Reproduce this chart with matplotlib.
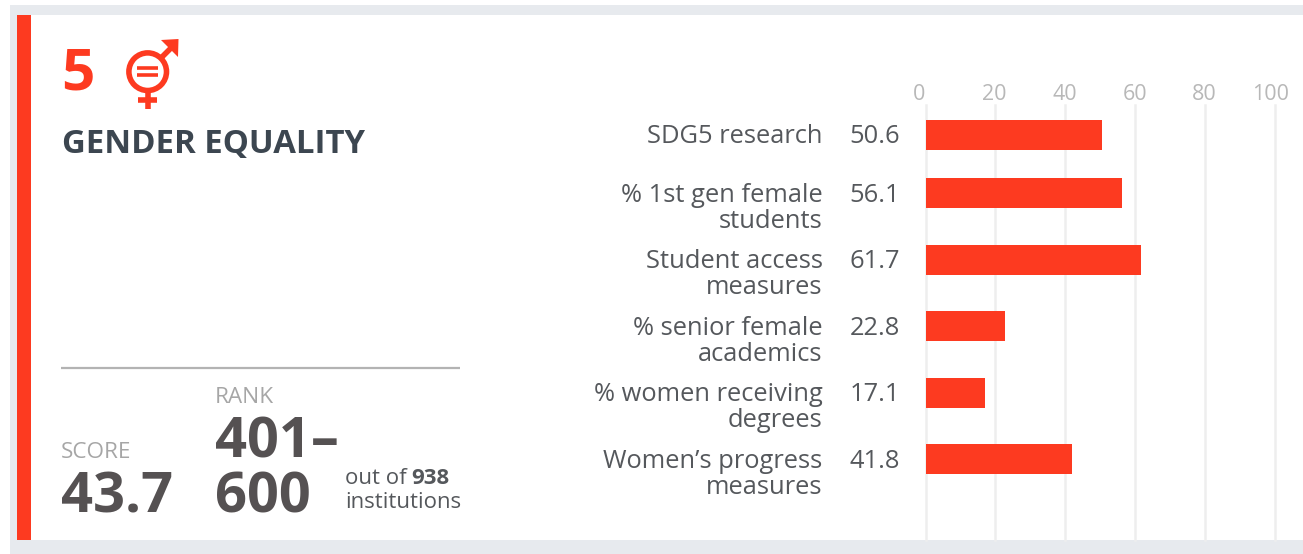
import matplotlib
matplotlib.use("Agg")
import matplotlib.pyplot as plt
from matplotlib.patches import Rectangle, Circle, Polygon
from matplotlib.transforms import ScaledTranslation

plt.rcParams['font.family'] = ['Open Sans', 'DejaVu Sans']

labels = ["SDG5 research", "% 1st gen female\nstudents", "Student access\nmeasures",
          "% senior female\nacademics", "% women receiving\ndegrees", "Women\u2019s progress\nmeasures"]
values = [50.6, 56.1, 61.7, 22.8, 17.1, 41.8]
value_text = ["50.6", "56.1", "61.7", "22.8", "17.1", "41.8"]
row_pos = [0.0, 0.887, 1.887, 2.887, 3.887, 4.887]
ticks = [0, 20, 40, 60, 80, 100]
tick_shift_px = [-6.5, -1.5, 0, 0, -1, -4]

RED = '#fd3a20'
GREY_BG = '#e7eaee'
W, H = 1303, 554
fig = plt.figure(figsize=(W / 100, H / 100), dpi=100, facecolor='white')

bg = fig.add_axes([0, 0, 1, 1], zorder=0)
bg.set_xlim(0, W); bg.set_ylim(H, 0); bg.axis('off')
bg.add_patch(Rectangle((10, 5), W - 10, H - 5, fc=GREY_BG, ec='none'))
bg.add_patch(Rectangle((17, 15), W - 17, 525, fc='white', ec='none'))
bg.add_patch(Rectangle((17, 15), 14, 525, fc=RED, ec='none'))

# chart axes: x 0 -> 925.5 px, 100 -> 1275 px; y spans 105..540 px
x0, x100 = 925.5, 1275.0
top, bot = 105.0, 540.0
ax = fig.add_axes([x0 / W, 1 - bot / H, (x100 - x0) / W, (bot - top) / H], zorder=2)
ax.patch.set_alpha(0)
ax.set_xlim(0, 100)
px_per_row = 66.5
ax.set_ylim((bot - 134.5) / px_per_row, (top - 134.5) / px_per_row)
ax.barh(row_pos, values, height=30 / px_per_row, color=RED, zorder=3)
ax.set_xticks(ticks)
ax.xaxis.tick_top()
ax.tick_params(axis='x', length=0, pad=0, labelsize=15.5, labelcolor='#b8b8b8')
ax.set_yticks([])
ax.grid(axis='x', color='#eeeeee', lw=1.8, zorder=0)
ax.set_axisbelow(True)
for s in ax.spines.values():
    s.set_visible(False)
for lab, dx in zip(ax.get_xticklabels(), tick_shift_px):
    lab.set_clip_on(False)
    lab.set_transform(lab.get_transform() + ScaledTranslation(dx / 100, 0, fig.dpi_scale_trans))
for gl in ax.get_xgridlines():
    gl.set_clip_on(False)

ov = fig.add_axes([0, 0, 1, 1], zorder=3)
ov.set_xlim(0, W); ov.set_ylim(H, 0); ov.axis('off')

TXT = '#55585c'
for lab, vt, r in zip(labels, value_text, row_pos):
    yc = 136.5 + r * px_per_row
    for i, p in enumerate(lab.split('\n')):
        ov.text(822.5, yc + i * 26, p, ha='right', va='center', fontsize=18.4, color=TXT)
    ov.text(849.5, yc, vt, ha='left', va='center', fontsize=18.4, color=TXT)

ov.text(61, 75, "5", ha='left', va='center', fontsize=42, fontweight='bold', color=RED)
ov.text(62, 144.5, "GENDER EQUALITY", ha='left', va='center', fontsize=23.7, fontweight='bold', color='#3c4650')

# gender-equality icon
ov.add_patch(Circle((147.7, 71.7), 18.8, fc='none', ec=RED, lw=4))
ov.plot([137, 158], [68, 68], color=RED, lw=2.6, solid_capstyle='butt')
ov.plot([137, 158], [75, 75], color=RED, lw=2.6, solid_capstyle='butt')
ov.plot([147.7, 147.7], [92, 109], color=RED, lw=4, solid_capstyle='butt')
ov.plot([138, 157], [100, 100], color=RED, lw=4, solid_capstyle='butt')
ov.plot([161, 174], [58, 45], color=RED, lw=4, solid_capstyle='butt')
ov.add_patch(Polygon([[161, 40], [178.5, 39], [178, 57]], closed=True, fc=RED, ec='none'))

ov.plot([61, 460], [368, 368], color='#b3b3b3', lw=1.6, solid_capstyle='butt')

ov.text(61, 452.5, "SCORE", ha='left', va='center', fontsize=16.2, color='#a6a6a6')
ov.text(61, 498, "43.7", ha='left', va='center', fontsize=40.3, fontweight='bold', color='#555152')
ov.text(215, 397.5, "RANK", ha='left', va='center', fontsize=16.2, color='#a6a6a6')
ov.text(215, 443, "401\u2013", ha='left', va='center', fontsize=40.3, fontweight='bold', color='#555152')
ov.text(215, 498, "600", ha='left', va='center', fontsize=40.3, fontweight='bold', color='#555152')
t = ov.text(345, 478, "out of", ha='left', va='center', fontsize=16, color=TXT)
fig.canvas.draw()
bb = t.get_window_extent()
ov.text(bb.x1 + 5, 478, "938", ha='left', va='center', fontsize=16, fontweight='bold', color=TXT)
ov.text(345, 502, "institutions", ha='left', va='center', fontsize=15.9, color=TXT)

fig.savefig('out.png', dpi=100, facecolor='white')
